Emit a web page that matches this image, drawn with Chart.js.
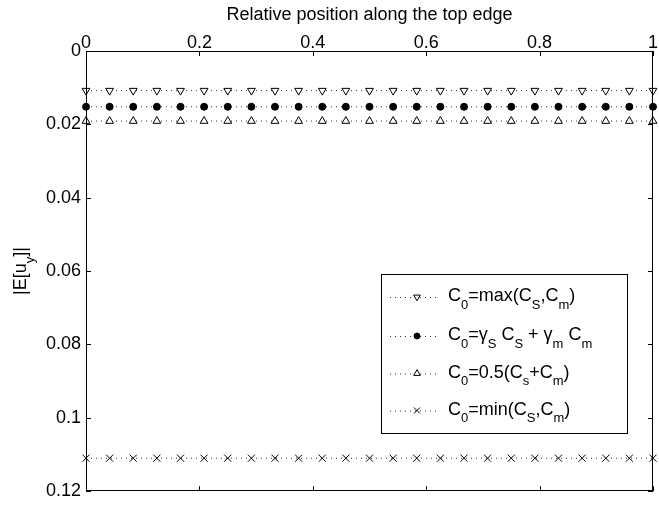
<!DOCTYPE html>
<html>
<head>
<meta charset="utf-8">
<script src="https://cdn.jsdelivr.net/npm/chart.js@4.4.1/dist/chart.umd.min.js"></script>
<style>
  html, body { margin: 0; padding: 0; background: #fff; }
  #chart { display: block; }
</style>
</head>
<body>
<canvas id="chart" width="659" height="507"></canvas>
<script>
// positions along the edge (25 sample points)
const positions = [0, 0.0417, 0.0833, 0.125, 0.1667, 0.2083, 0.25, 0.2917, 0.3333, 0.375, 0.4167, 0.4583, 0.5,
  0.5417, 0.5833, 0.625, 0.6667, 0.7083, 0.75, 0.7917, 0.8333, 0.875, 0.9167, 0.9583, 1];

const seriesMax = [0.0108, 0.0108, 0.0108, 0.0108, 0.0108, 0.0108, 0.0108, 0.0108, 0.0108, 0.0108, 0.0108, 0.0108, 0.0108,
  0.0108, 0.0108, 0.0108, 0.0108, 0.0108, 0.0108, 0.0108, 0.0108, 0.0108, 0.0108, 0.0108, 0.0108];
const seriesWeighted = [0.0152, 0.0152, 0.0152, 0.0152, 0.0152, 0.0152, 0.0152, 0.0152, 0.0152, 0.0152, 0.0152, 0.0152, 0.0152,
  0.0152, 0.0152, 0.0152, 0.0152, 0.0152, 0.0152, 0.0152, 0.0152, 0.0152, 0.0152, 0.0152, 0.0152];
const seriesHalf = [0.0191, 0.0191, 0.0191, 0.0191, 0.0191, 0.0191, 0.0191, 0.0191, 0.0191, 0.0191, 0.0191, 0.0191, 0.0191,
  0.0191, 0.0191, 0.0191, 0.0191, 0.0191, 0.0191, 0.0191, 0.0191, 0.0191, 0.0191, 0.0191, 0.0191];
const seriesMin = [0.111, 0.111, 0.111, 0.111, 0.111, 0.111, 0.111, 0.111, 0.111, 0.111, 0.111, 0.111, 0.111,
  0.111, 0.111, 0.111, 0.111, 0.111, 0.111, 0.111, 0.111, 0.111, 0.111, 0.111, 0.111];

// "_x" marks a one-character subscript
const seriesLabels = ["C_0=max(C_S,C_m)", "C_0=γ_S C_S + γ_m C_m", "C_0=0.5(C_s+C_m)", "C_0=min(C_S,C_m)"];
const xTicks = [0, 0.2, 0.4, 0.6, 0.8, 1];
const xTickLabels = ["0", "0.2", "0.4", "0.6", "0.8", "1"];
const yTicks = [0, 0.02, 0.04, 0.06, 0.08, 0.1, 0.12];
const yTickLabels = ["0", "0.02", "0.04", "0.06", "0.08", "0.1", "0.12"];
const xTitle = "Relative position along the top edge";
const yTitle = "|E[u_y]|";

const FONT = '"Liberation Sans", Arial, Helvetica, sans-serif';
const FS = 18;
Chart.defaults.font.family = FONT;
Chart.defaults.font.size = FS;
Chart.defaults.color = "#000";

const toPoints = vals => vals.map((v, i) => ({ x: positions[i], y: v }));
const labelFor = (ticks, labels) => v => {
  const i = ticks.findIndex(t => Math.abs(t - v) < 1e-9);
  return i < 0 ? "" : labels[i];
};

// text with single-char subscripts, drawn left to right from (x, baseline)
function splitSub(str) {
  const parts = [];
  let buf = "";
  for (let i = 0; i < str.length; i++) {
    if (str[i] === "_" && i + 1 < str.length) {
      if (buf) parts.push({ t: buf, sub: false });
      buf = "";
      parts.push({ t: str[i + 1], sub: true });
      i++;
    } else buf += str[i];
  }
  if (buf) parts.push({ t: buf, sub: false });
  return parts;
}
function drawRich(ctx, str, x, y, size) {
  ctx.textBaseline = "alphabetic";
  ctx.textAlign = "left";
  splitSub(str).forEach(p => {
    const s = p.sub ? Math.round(size * 0.7) : size;
    ctx.font = s + "px " + FONT;
    ctx.fillText(p.t, x, p.sub ? y + size * 0.42 : y);
    x += ctx.measureText(p.t).width;
  });
  return x;
}
function richWidth(ctx, str, size) {
  let w = 0;
  splitSub(str).forEach(p => {
    ctx.font = (p.sub ? Math.round(size * 0.7) : size) + "px " + FONT;
    w += ctx.measureText(p.t).width;
  });
  return w;
}

const frameAndLegend = {
  id: "frameAndLegend",
  afterDraw(chart) {
    const { ctx, chartArea: a, scales } = chart;
    const tick = 5;
    ctx.save();
    ctx.strokeStyle = "#000";
    ctx.lineWidth = 1;
    ctx.strokeRect(Math.round(a.left) + 0.5, Math.round(a.top) + 0.5,
      Math.round(a.right - a.left) - 1, Math.round(a.bottom - a.top) - 1);

    ctx.beginPath();
    scales.x.ticks.forEach(t => {
      const px = Math.round(scales.x.getPixelForValue(t.value)) + 0.5;
      ctx.moveTo(px, a.top); ctx.lineTo(px, a.top + tick);
      ctx.moveTo(px, a.bottom); ctx.lineTo(px, a.bottom - tick);
    });
    scales.y.ticks.forEach(t => {
      const py = Math.round(scales.y.getPixelForValue(t.value)) + 0.5;
      ctx.moveTo(a.left, py); ctx.lineTo(a.left + tick, py);
      ctx.moveTo(a.right, py); ctx.lineTo(a.right - tick, py);
    });
    ctx.stroke();

    // y axis title, rotated
    ctx.fillStyle = "#000";
    ctx.save();
    const cy = (a.top + a.bottom) / 2;
    ctx.translate(26, cy);
    ctx.rotate(-Math.PI / 2);
    const w = richWidth(ctx, yTitle, FS);
    drawRich(ctx, yTitle, -w / 2, 0, FS);
    ctx.restore();

    // legend box
    const lx = a.left + 295, ly = a.top + 223, lw = 246, lh = 159;
    ctx.fillStyle = "#fff";
    ctx.fillRect(lx, ly, lw, lh);
    ctx.strokeRect(Math.round(lx) + 0.5, Math.round(ly) + 0.5, lw, lh);
    const rows = [23, 62, 99.5, 136.5];
    chart.data.datasets.forEach((ds, i) => {
      const ry = ly + rows[i];
      ctx.save();
      ctx.strokeStyle = ds.borderColor;
      ctx.setLineDash(ds.borderDash);
      ctx.beginPath();
      ctx.moveTo(lx + 9, ry + 0.5);
      ctx.lineTo(lx + 57, ry + 0.5);
      ctx.stroke();
      ctx.restore();
      ctx.save();
      ctx.strokeStyle = "#000";
      ctx.fillStyle = ds.pointBackgroundColor;
      Chart.helpers.drawPoint(ctx, {
        pointStyle: ds.pointStyle, rotation: ds.pointRotation || 0,
        radius: ds.pointRadius * 0.85, borderWidth: 1
      }, lx + 36, ry);
      ctx.restore();
      ctx.fillStyle = "#000";
      drawRich(ctx, ds.label, lx + 67, ry + 4, FS);
    });
    ctx.restore();
  }
};

const common = {
  showLine: true,
  borderColor: "#333",
  borderWidth: 1,
  borderDash: [1, 4],
  pointBorderColor: "#000",
  pointBorderWidth: 1,
  clip: false
};

new Chart(document.getElementById("chart"), {
  type: "scatter",
  data: {
    datasets: [
      { ...common, label: seriesLabels[0], data: toPoints(seriesMax),
        pointStyle: "triangle", pointRotation: 180, pointRadius: 4.5, pointBackgroundColor: "#fff" },
      { ...common, label: seriesLabels[1], data: toPoints(seriesWeighted),
        pointStyle: "circle", pointRadius: 3.5, pointBackgroundColor: "#000" },
      { ...common, label: seriesLabels[2], data: toPoints(seriesHalf),
        pointStyle: "triangle", pointRadius: 4.5, pointBackgroundColor: "#fff" },
      { ...common, label: seriesLabels[3], data: toPoints(seriesMin),
        pointStyle: "crossRot", pointRadius: 5, pointBackgroundColor: "#000" }
    ]
  },
  options: {
    responsive: false,
    animation: false,
    layout: { padding: { left: 0, right: 2, top: 0, bottom: 12 } },
    plugins: { legend: { display: false }, tooltip: { enabled: false } },
    scales: {
      x: {
        type: "linear",
        position: "top",
        min: 0, max: 1,
        grid: { display: false, drawTicks: false },
        border: { display: false },
        ticks: { stepSize: 0.2, padding: -3, autoSkip: false, maxRotation: 0,
          callback: labelFor(xTicks, xTickLabels) },
        title: { display: true, text: xTitle, padding: { top: 4, bottom: 0 } },
        afterFit: s => { s.height = 51; }
      },
      y: {
        type: "linear",
        reverse: true,
        min: 0, max: 0.12,
        grid: { display: false, drawTicks: false },
        border: { display: false },
        ticks: { stepSize: 0.02, padding: 5, autoSkip: false,
          callback: labelFor(yTicks, yTickLabels) },
        afterFit: s => { s.width = 86; }
      }
    }
  },
  plugins: [frameAndLegend]
});
</script>
</body>
</html>
